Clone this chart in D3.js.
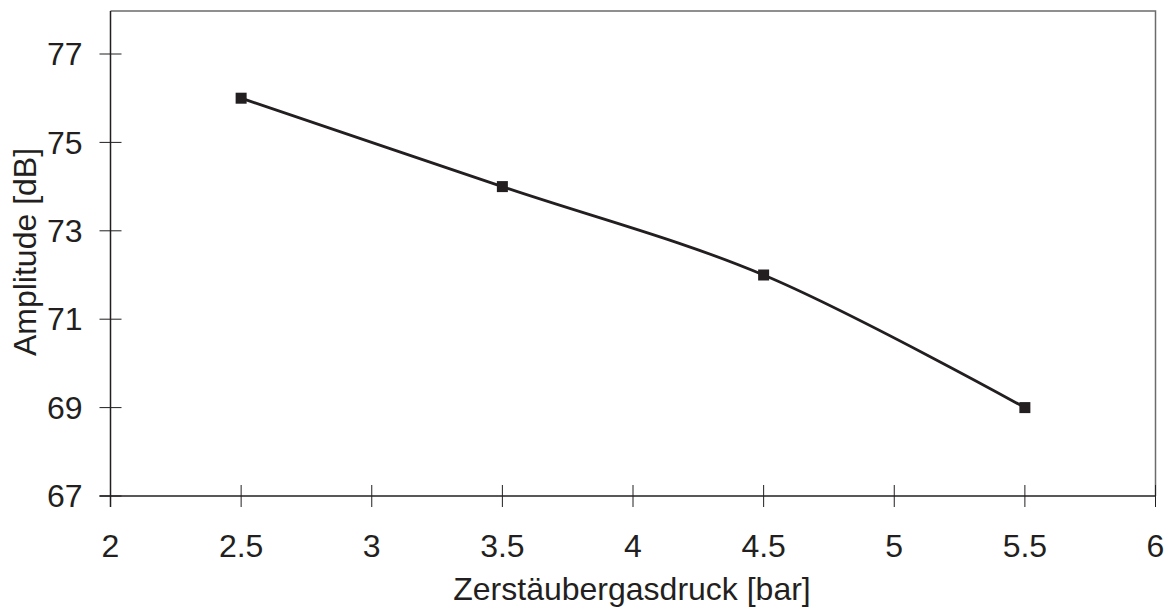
<!DOCTYPE html>
<html>
<head>
<meta charset="utf-8">
<script src="https://cdn.jsdelivr.net/npm/d3@7"></script>
<style>
  html, body { margin: 0; padding: 0; background: #fff; }
  svg { display: block; font-family: "Liberation Sans", Arial, sans-serif; }
</style>
</head>
<body>
<svg id="chart" width="1174" height="610"></svg>
<script>
// Atomizing gas pressure vs. amplitude
const pressure = [2.5, 3.5, 4.5, 5.5];
const amplitude = [76, 74, 72, 69];
const xTicks = [2, 2.5, 3, 3.5, 4, 4.5, 5, 5.5, 6];
const yTicks = [67, 69, 71, 73, 75, 77];

const plot = { left: 110.5, right: 1155.5, top: 11, bottom: 496 };
const ink = "#231f20";
const fs = 32;

const svg = d3.select("#chart");

const x = d3.scaleLinear().domain([2, 6]).range([plot.left, plot.right]);
const y = d3.scaleLinear().domain([67, 77]).range([plot.bottom, 54]);

// frame: top and right edges
svg.append("path")
  .attr("d", `M${plot.left},${plot.top}H${plot.right}V${plot.bottom}`)
  .attr("fill", "none").attr("stroke", "#6b6b6b").attr("stroke-width", 1.5);

// x axis (ticks cross the axis line)
const xAxis = svg.append("g").attr("transform", `translate(0,${plot.bottom})`);
xAxis.append("line").attr("x1", plot.left - 11).attr("x2", plot.right)
  .attr("stroke", ink).attr("stroke-width", 1.5);
xAxis.selectAll(".tick").data(xTicks).join("line")
  .attr("x1", d => x(d)).attr("x2", d => x(d))
  .attr("y1", -11).attr("y2", 11)
  .attr("stroke", ink).attr("stroke-width", 1);
xAxis.selectAll(".lbl").data(xTicks).join("text")
  .attr("x", d => x(d)).attr("y", 61)
  .attr("text-anchor", "middle").attr("font-size", fs).attr("fill", ink)
  .text(d => d);

// y axis
const yAxis = svg.append("g").attr("transform", `translate(${plot.left},0)`);
yAxis.append("line").attr("y1", plot.top).attr("y2", plot.bottom + 11)
  .attr("stroke", ink).attr("stroke-width", 1.5);
yAxis.selectAll(".tick").data(yTicks).join("line")
  .attr("x1", -11).attr("x2", 11)
  .attr("y1", d => y(d)).attr("y2", d => y(d))
  .attr("stroke", ink).attr("stroke-width", 1);
yAxis.selectAll(".lbl").data(yTicks).join("text")
  .attr("x", -28).attr("y", d => y(d)).attr("dy", "0.35em")
  .attr("text-anchor", "end").attr("font-size", fs).attr("fill", ink)
  .text(d => d);

// axis titles
svg.append("text")
  .attr("x", 632).attr("y", 600)
  .attr("text-anchor", "middle").attr("font-size", fs).attr("fill", ink)
  .text("Zerstäubergasdruck [bar]");
svg.append("text")
  .attr("transform", `translate(36,252) rotate(-90)`)
  .attr("text-anchor", "middle").attr("font-size", fs).attr("fill", ink)
  .text("Amplitude [dB]");

// smoothed series line
const data = pressure.map((p, i) => ({ p, a: amplitude[i] }));
svg.append("path")
  .datum(data)
  .attr("d", d3.line().x(d => x(d.p)).y(d => y(d.a)).curve(d3.curveCatmullRom.alpha(0.5)))
  .attr("fill", "none").attr("stroke", ink).attr("stroke-width", 2.8);

// square markers
svg.selectAll(".mk").data(data).join("rect")
  .attr("x", d => x(d.p) - 5.5).attr("y", d => y(d.a) - 5.5)
  .attr("width", 11).attr("height", 11).attr("fill", ink);
</script>
</body>
</html>
